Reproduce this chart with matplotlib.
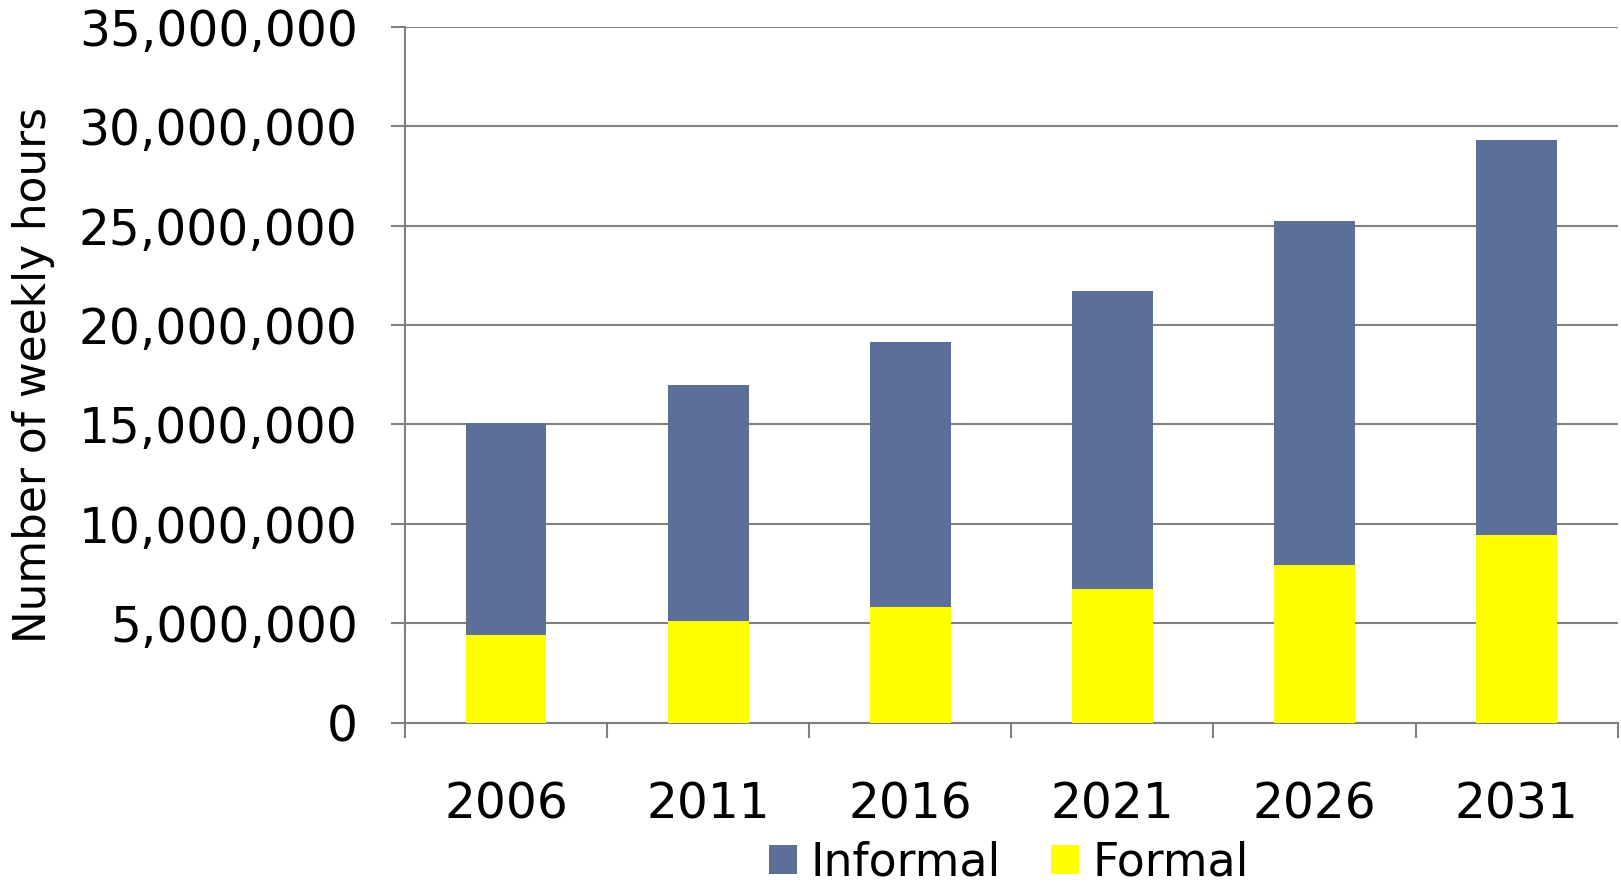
import matplotlib
matplotlib.use("Agg")
import matplotlib.pyplot as plt
import numpy as np
from matplotlib.ticker import FuncFormatter, FixedLocator

years = ["2006", "2011", "2016", "2021", "2026", "2031"]
formal = [4.42e6, 5.09e6, 5.84e6, 6.72e6, 7.93e6, 9.42e6]
total = [15.08e6, 17.0e6, 19.16e6, 21.71e6, 25.24e6, 29.33e6]
informal = [t - f for t, f in zip(total, formal)]

series_names = ["Informal", "Formal"]
c_inf = "#5B6F98"
c_for = "#FFFF00"
grid_c = "#808080"

plt.rcParams['font.family'] = ['DejaVu Sans']

fig = plt.figure(figsize=(16.21, 8.85), dpi=100)
ax = fig.add_axes([0.2498, 0.1835, 0.7482, 0.7861])

x = np.arange(len(years))
b_for = ax.bar(x, formal, width=0.4, color=c_for, zorder=3, label="Formal")
b_inf = ax.bar(x, informal, width=0.4, bottom=formal, color=c_inf, zorder=3, label="Informal")

ax.set_xlim(-0.5, len(years) - 0.5)
ax.set_ylim(0, 35e6)
ax.set_yticks(np.arange(0, 35e6 + 1, 5e6))
ax.yaxis.set_major_formatter(FuncFormatter(lambda v, p: f"{int(v):,}"))
ax.grid(axis='y', color=grid_c, linewidth=1.5, zorder=1)

ax.set_xticks(x)
ax.set_xticklabels(years)
ax.xaxis.set_minor_locator(FixedLocator(np.arange(-0.5, len(years), 1.0)))
ax.tick_params(axis='x', which='major', length=0, pad=42, labelsize=35)
ax.tick_params(axis='x', which='minor', length=11, width=1.5, color=grid_c, direction='out')
ax.tick_params(axis='y', length=10, width=1.5, color=grid_c, pad=24, labelsize=35)

for s in ['top', 'right']:
    ax.spines[s].set_visible(False)
for s in ['left', 'bottom']:
    ax.spines[s].set_color(grid_c)
    ax.spines[s].set_linewidth(1.5)

fig.text(0.0204, 0.5766, "Number of weekly hours", rotation=90, ha='center', va='center',
         fontsize=31.5, fontweight='medium')

fig.legend([b_inf, b_for], series_names, loc='center', bbox_to_anchor=(0.6226, 0.025),
           ncol=2, frameon=False, fontsize=33, handlelength=0.6, handleheight=0.6,
           handletextpad=0.3, columnspacing=1.1, borderpad=0)

fig.savefig("out.png", dpi=100)
